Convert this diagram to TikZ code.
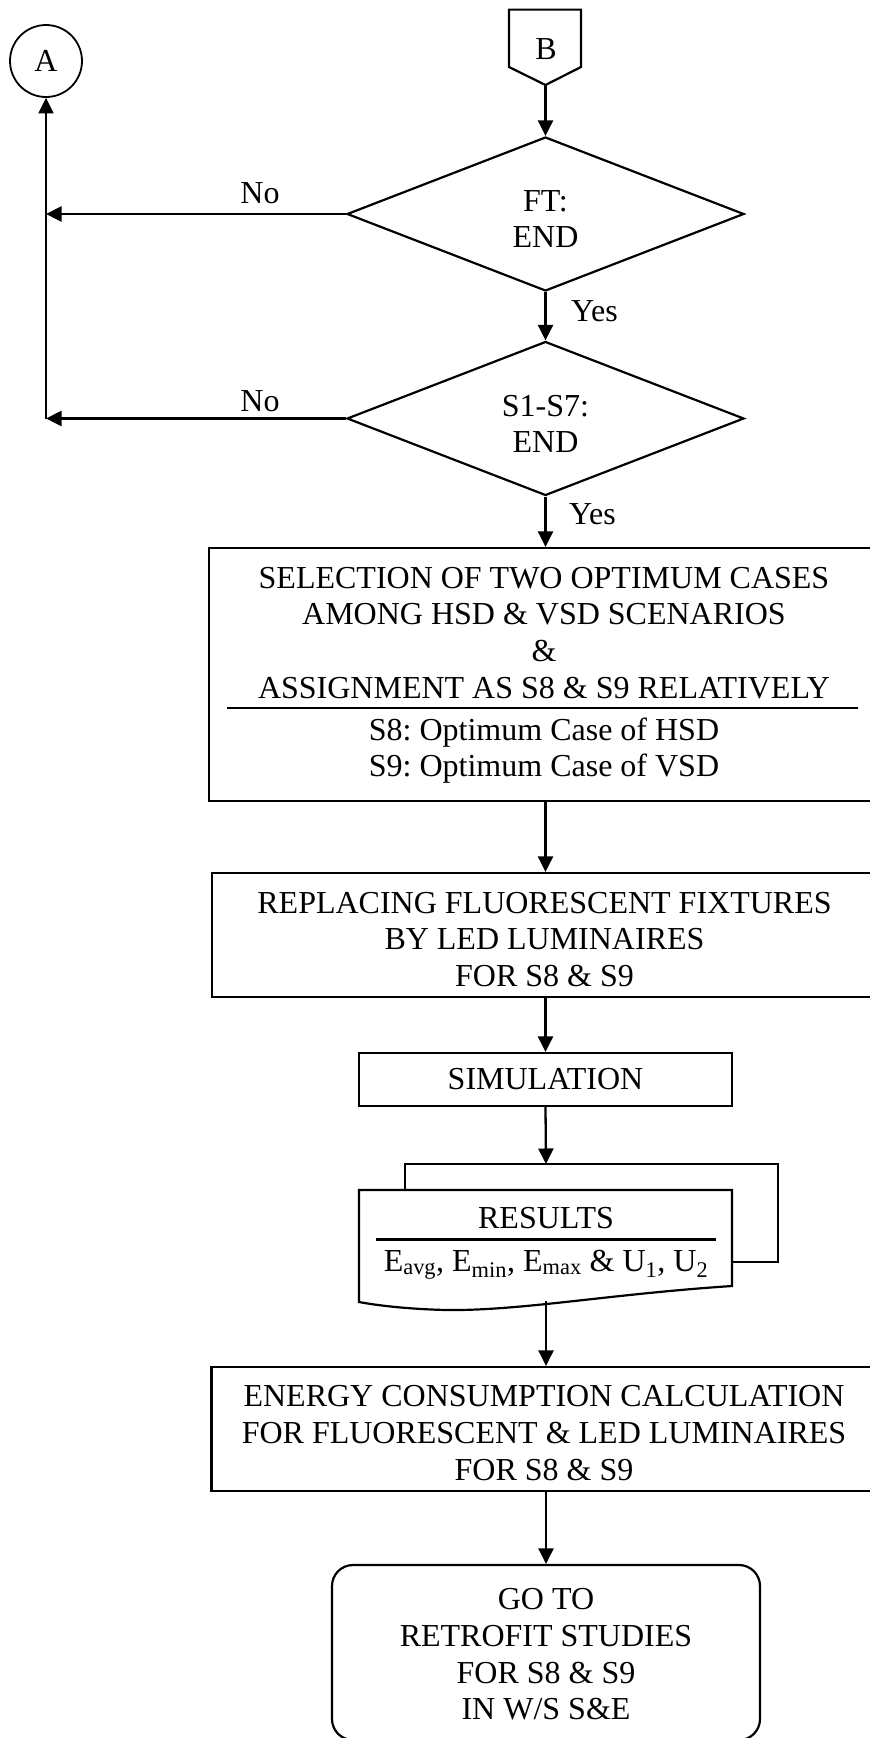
\documentclass[tikz,border=0pt]{standalone}
\usepackage{fontspec}
\setmainfont{Liberation Serif}
\usetikzlibrary{arrows.meta,shapes.geometric}
\frenchspacing

\begin{document}
\begin{tikzpicture}[x=1pt,y=-1pt,
  every node/.style={font=\fontsize{32}{36.6}\selectfont},
  line/.style={line width=2.2pt},
  arr/.style={line width=2.3pt,-{Triangle[length=15.5pt,width=15pt]}},
  stepbox/.style={draw,line width=2.2pt,rectangle,inner sep=0pt},
  txt/.style={align=center,inner sep=0pt},
  decision/.style={draw,line width=2.2pt,diamond,aspect=2.58,
    minimum width=397pt,minimum height=154pt,inner sep=0pt},
]
\useasboundingbox (0,0) rectangle (870,1738);

% connectors A and B
\node[draw,circle,line width=1.8pt,minimum size=72pt,inner sep=0pt] (A) at (46,61) {A};
\draw[line] (509,9.6) -- (581,9.6) -- (581,67) -- (545.5,85) -- (509,67) -- cycle;
\node[txt] (Btxt) at (546,49) {B};
\coordinate (Btip) at (545.5,85);

% decisions
\node[decision] (d1) at (545.5,214) {};
\node[txt] (d1t) at (545.5,219) {FT:\\END};
\node[decision] (d2) at (545.5,418.5) {};
\node[txt] (d2t) at (545.5,424) {S1-S7:\\END};

\draw[arr] (Btip) -- (d1.north);
\draw[arr] (d1.south) -- (d2.north);
\node[txt,anchor=west] (yes1) at (571,311) {Yes};
\node[txt,anchor=west] (yes2) at (569,514) {Yes};

\coordinate (j2) at (d2.west -| A.south);
\draw[arr] (d1.west) -- (d1.west -| A.south);
\draw[arr] (d2.west) -- (j2);
\draw[arr] (j2) -- (A.south);
\node[txt] (no1) at (260,193) {No};
\node[txt] (no2) at (260,401) {No};

% selection of optimum cases
\node[stepbox,minimum width=666pt,minimum height=253pt] (sel) at (542,674.5) {};
\node[txt] (selA) at (544,632.75) {SELECTION OF TWO OPTIMUM CASES\\AMONG HSD \& VSD SCENARIOS\\\&\\ASSIGNMENT AS S8 \& S9 RELATIVELY};
\draw[line] (226.5,708) -- (857.5,708);
\node[txt] (selB) at (544,750.5) {S8: Optimum Case of HSD\\S9: Optimum Case of VSD};
\draw[arr] (d2.south) -- (d2.south |- sel.north);

% replacing fixtures
\node[stepbox,minimum width=665pt,minimum height=124pt] (rep) at (544.5,935) {};
\node[txt] (rept) at (544.5,939.25) {REPLACING FLUORESCENT FIXTURES\\BY LED LUMINAIRES\\FOR S8 \& S9};
\draw[arr] (sel.south -| d2.south) -- (rep.north -| d2.south);

% simulation
\node[stepbox,minimum width=373pt,minimum height=53pt] (sim) at (545.5,1079.5) {SIMULATION};
\draw[arr] (rep.south -| d2.south) -- (sim.north -| d2.south);

% results (multi-document)
\draw[line,fill=white] (405,1164) rectangle (778,1262);
\draw[line,fill=white] (359,1190) -- (732,1190) -- (732,1286)
  .. controls (610,1294) and (520,1311) .. (446,1310)
  .. controls (405,1309) and (375,1305) .. (359,1302) -- cycle;
\coordinate (doctop) at (546,1164);
\coordinate (docbot) at (546,1301);
\node[txt] (rest) at (546,1218.5) {RESULTS};
\draw[line] (376,1239.5) -- (716,1239.5);
\node[txt,anchor=base] (resv) at (546,1271) {E\textsubscript{avg}, E\textsubscript{min}, E\textsubscript{max} \& U\textsubscript{1}, U\textsubscript{2}};
\draw[arr] (sim.south -| d2.south) -- (doctop);

% energy calculation
\node[stepbox,minimum width=665pt,minimum height=124pt] (en) at (544,1429) {};
\node[txt] (ent) at (544,1433) {ENERGY CONSUMPTION CALCULATION\\FOR FLUORESCENT \& LED LUMINAIRES\\FOR S8 \& S9};
\draw[arr] (docbot) -- (docbot |- en.north);

% terminal
\node[draw,line width=2.2pt,rounded corners=21pt,minimum width=428pt,minimum height=175pt,inner sep=0pt] (term) at (546,1652.5) {};
\node[txt] (termt) at (546,1654.5) {GO TO\\RETROFIT STUDIES\\FOR S8 \& S9\\IN W/S S\&E};
\draw[arr] (en.south -| docbot) -- (term.north);
\end{tikzpicture}
\end{document}
